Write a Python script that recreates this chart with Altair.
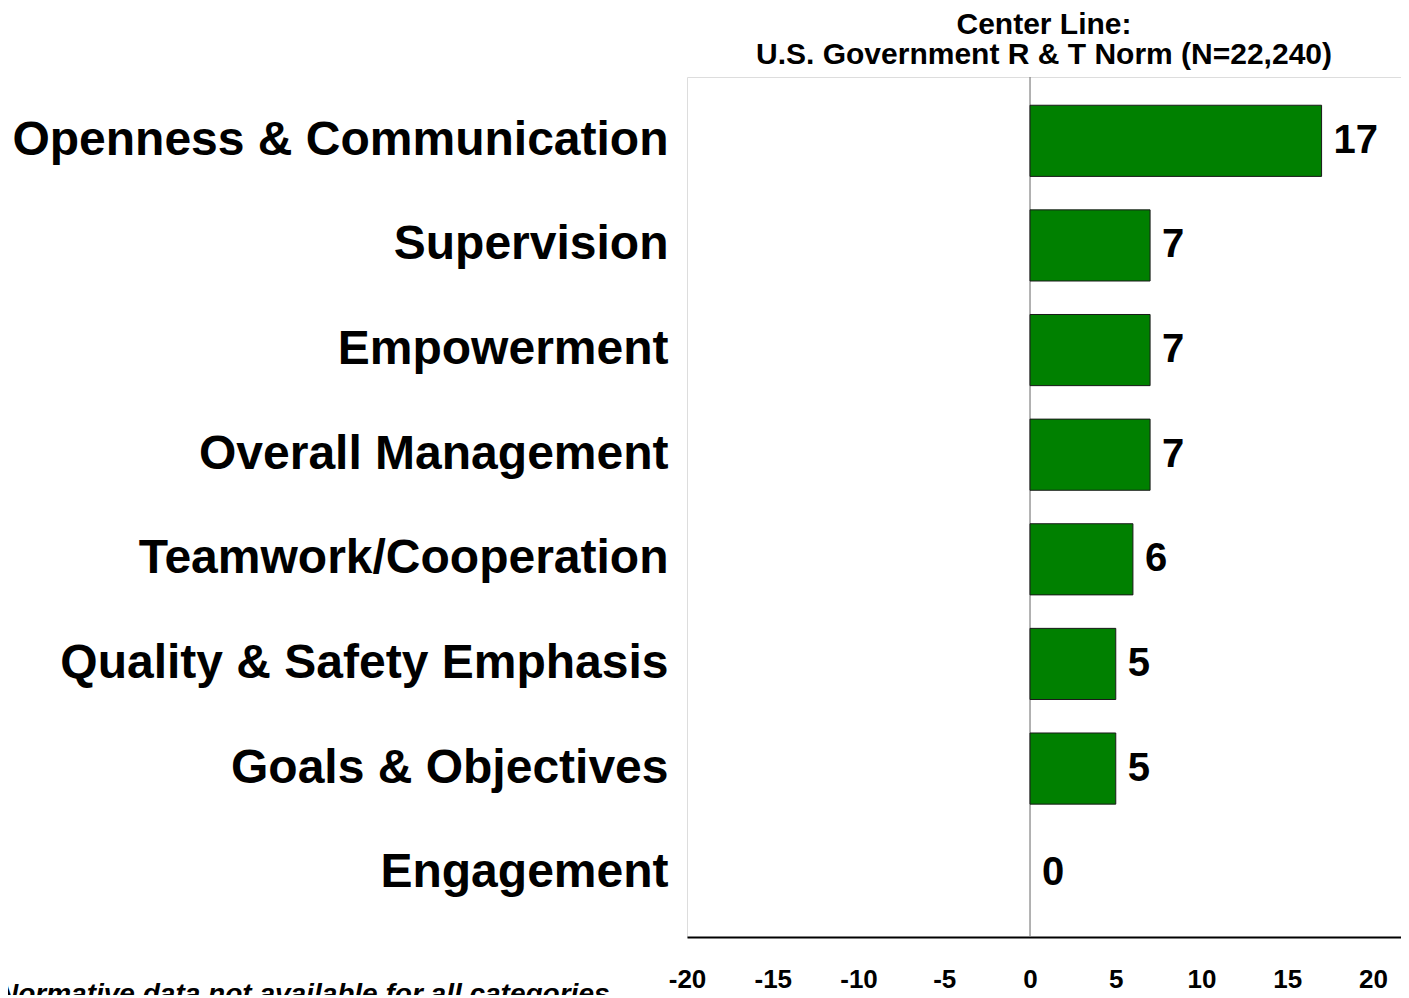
import altair as alt
import pandas as pd

categories = [
    "Openness & Communication",
    "Supervision",
    "Empowerment",
    "Overall Management",
    "Teamwork/Cooperation",
    "Quality & Safety Emphasis",
    "Goals & Objectives",
    "Engagement",
]
values = [17, 7, 7, 7, 6, 5, 5, 0]
tick_values = [-20, -15, -10, -5, 0, 5, 10, 15, 20]
title_lines = ["Center Line:", "U.S. Government R & T Norm (N=22,240)"]
footnote = "Normative data not available for all categories"

FONT = "Liberation Sans"

df = pd.DataFrame({"category": categories, "value": values})

x_scale = alt.Scale(domain=[-20, 21.63], nice=False, zero=False)
y_scale = alt.Scale(domain=categories, paddingInner=0.32, paddingOuter=0.27)

base = alt.Chart(df)

bars = base.mark_bar(color="#008000", stroke="#1a1a1a").encode(
    x=alt.X(
        "value:Q",
        scale=x_scale,
        axis=alt.Axis(
            values=tick_values,
            title=None,
            grid=False,
            ticks=False,
            domain=True,
            domainColor="#000000",
            domainWidth=2,
            labelFont=FONT,
            labelFontSize=26,
            labelFontWeight="bold",
            labelColor="#000000",
            labelPadding=29,
            labelFlush=False,
            labelExpr="'' + datum.value",
        ),
    ),
    x2=alt.datum(0),
    y=alt.Y(
        "category:N",
        scale=y_scale,
        sort=categories,
        axis=alt.Axis(
            title=None,
            ticks=False,
            domain=False,
            grid=False,
            labelFont=FONT,
            labelFontSize=48,
            labelFontWeight="bold",
            labelColor="#000000",
            labelPadding=19,
            labelLimit=2000,
        ),
    ),
    strokeWidth=alt.condition(alt.datum.value == 0, alt.value(0), alt.value(1)),
)

labels = base.mark_text(
    align="left",
    baseline="middle",
    dx=12,
    font=FONT,
    fontSize=40,
    fontWeight="bold",
    color="#000000",
).encode(
    x=alt.X("value:Q", scale=x_scale),
    y=alt.Y("category:N", scale=y_scale, sort=categories),
    text=alt.Text("value:Q"),
)

zero_rule = alt.Chart(pd.DataFrame({"x": [0]})).mark_rule(
    color="#808080", strokeWidth=1.2
).encode(x=alt.X("x:Q", scale=x_scale))

note = alt.Chart(pd.DataFrame({"t": [footnote]})).mark_text(
    align="left",
    baseline="alphabetic",
    font=FONT,
    fontSize=28,
    fontStyle="italic",
    fontWeight="bold",
    color="#000000",
).encode(text="t:N", x=alt.value(-689), y=alt.value(926))

chart = (
    alt.layer(zero_rule, bars, labels, note)
    .properties(
        width=714,
        height=860,
        autosize=alt.AutoSizeParams(type="none"),
        padding={"left": 679, "top": 69, "right": 0, "bottom": 58},
        title=alt.TitleParams(
            text=title_lines,
            anchor="middle",
            frame="group",
            font=FONT,
            fontSize=30,
            fontWeight="bold",
            color="#000000",
            lineHeight=30,
            offset=6,
        ),
    )
    .configure_view(stroke="#606060", strokeWidth=1.5)
    .configure(background="#ffffff")
)

chart.save("out.html", embed_options={"renderer": "svg", "actions": False})
